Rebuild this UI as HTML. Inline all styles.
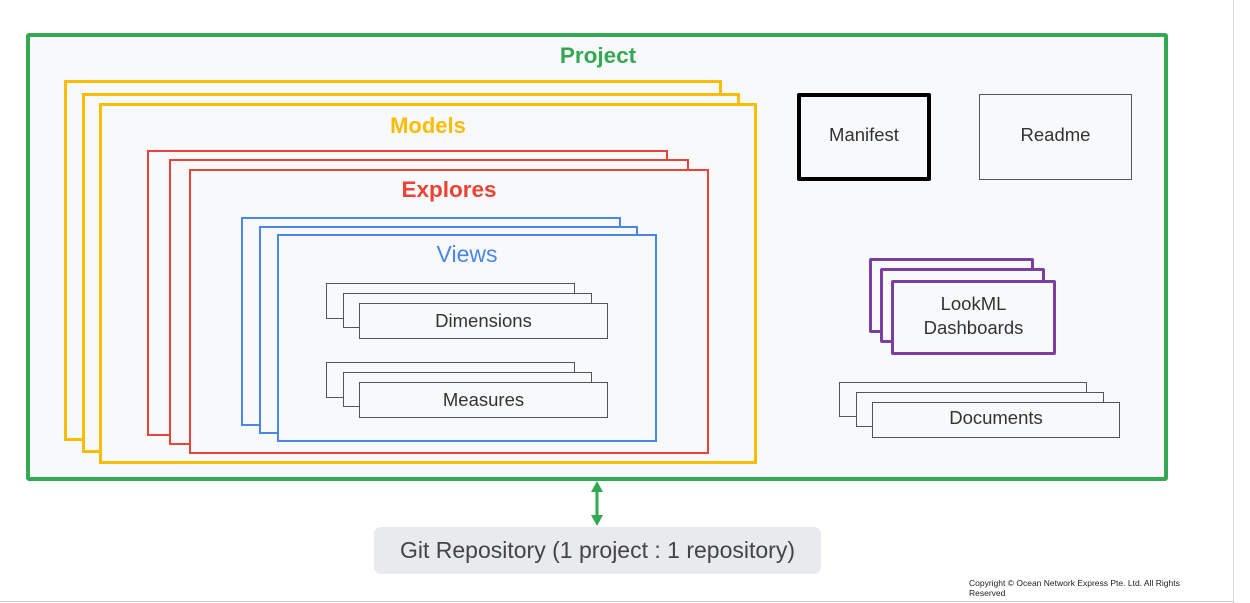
<!DOCTYPE html>
<html><head><meta charset="utf-8"><style>
body{margin:0;width:1250px;height:603px;background:#fff;position:relative;overflow:hidden;font-family:"Liberation Sans",Arial,sans-serif;}
.b{position:absolute;box-sizing:border-box;background:#f8f9fa;}
.t{position:absolute;white-space:nowrap;transform:translateX(-50%);}
.g{border:4px solid #34a853;border-radius:3px}
.y{border:3px solid #fbbc04}
.r{border:2px solid #ea4335}
.bl{border:2px solid #4a86e8}
.k{border:1px solid #555;color:#333;font-size:18.5px;display:flex;align-items:center;justify-content:center}
.p{border:3px solid #7b3fa0;border-radius:2px}
</style></head><body>
<div style="position:absolute;left:1233px;top:0;width:1px;height:603px;background:#ddd"></div>
<div style="position:absolute;left:0;top:601px;width:1234px;height:1px;background:#ccc"></div>

<div class="b g" style="left:26px;top:33px;width:1142px;height:448px"></div>
<div class="t" style="left:598px;top:43px;font-size:22.5px;font-weight:bold;color:#34a853">Project</div>

<div class="b y" style="left:64px;top:80px;width:658px;height:361px"></div>
<div class="b y" style="left:82px;top:93px;width:658px;height:360px"></div>
<div class="b y" style="left:99px;top:103px;width:658px;height:361px"></div>
<div class="t" style="left:428px;top:113px;font-size:22px;font-weight:bold;color:#fbbc04">Models</div>

<div class="b r" style="left:147px;top:150px;width:521px;height:286px"></div>
<div class="b r" style="left:169px;top:159px;width:520px;height:286px"></div>
<div class="b r" style="left:189px;top:169px;width:520px;height:285px"></div>
<div class="t" style="left:449px;top:177px;font-size:22.5px;font-weight:bold;color:#ea4335">Explores</div>

<div class="b bl" style="left:241px;top:217px;width:380px;height:209px"></div>
<div class="b bl" style="left:259px;top:226px;width:379px;height:208px"></div>
<div class="b bl" style="left:277px;top:234px;width:380px;height:208px"></div>
<div class="t" style="left:467px;top:241px;font-size:23px;color:#4a86e8">Views</div>

<div class="b k" style="left:326px;top:283px;width:249px;height:36px"></div>
<div class="b k" style="left:343px;top:293px;width:249px;height:35px"></div>
<div class="b k" style="left:359px;top:303px;width:249px;height:36px">Dimensions</div>
<div class="b k" style="left:326px;top:362px;width:249px;height:36px"></div>
<div class="b k" style="left:343px;top:372px;width:249px;height:35px"></div>
<div class="b k" style="left:359px;top:382px;width:249px;height:36px">Measures</div>

<div class="b k" style="left:797px;top:93px;width:134px;height:88px;border:4px solid #000;border-radius:2px;padding-bottom:4px">Manifest</div>
<div class="b k" style="left:979px;top:94px;width:153px;height:86px;padding-bottom:4px">Readme</div>

<div class="b p" style="left:869px;top:258px;width:165px;height:75px"></div>
<div class="b p" style="left:880px;top:268px;width:165px;height:75px"></div>
<div class="b p k" style="left:891px;top:280px;width:165px;height:75px;border:3px solid #7b3fa0;text-align:center;line-height:24px;padding-bottom:4px">LookML<br>Dashboards</div>

<div class="b k" style="left:839px;top:382px;width:248px;height:35px"></div>
<div class="b k" style="left:856px;top:392px;width:248px;height:35px"></div>
<div class="b k" style="left:872px;top:402px;width:248px;height:36px;padding-bottom:4px">Documents</div>

<svg style="position:absolute;left:587px;top:480px" width="22" height="48">
<line x1="10" y1="8" x2="10" y2="40" stroke="#34a853" stroke-width="3"/>
<polygon points="10,1 4,12 16,12" fill="#34a853"/>
<polygon points="10,46 4,35 16,35" fill="#34a853"/>
</svg>
<div style="position:absolute;left:374px;top:527px;width:447px;height:47px;background:#e8eaed;border-radius:7px;display:flex;align-items:center;justify-content:center;font-size:23px;color:#444">Git Repository (1 project : 1 repository)</div>

<div style="position:absolute;left:969px;top:578px;font-size:8.5px;line-height:10px;color:#222;width:225px">Copyright © Ocean Network Express Pte. Ltd. All Rights Reserved</div>
</body></html>
